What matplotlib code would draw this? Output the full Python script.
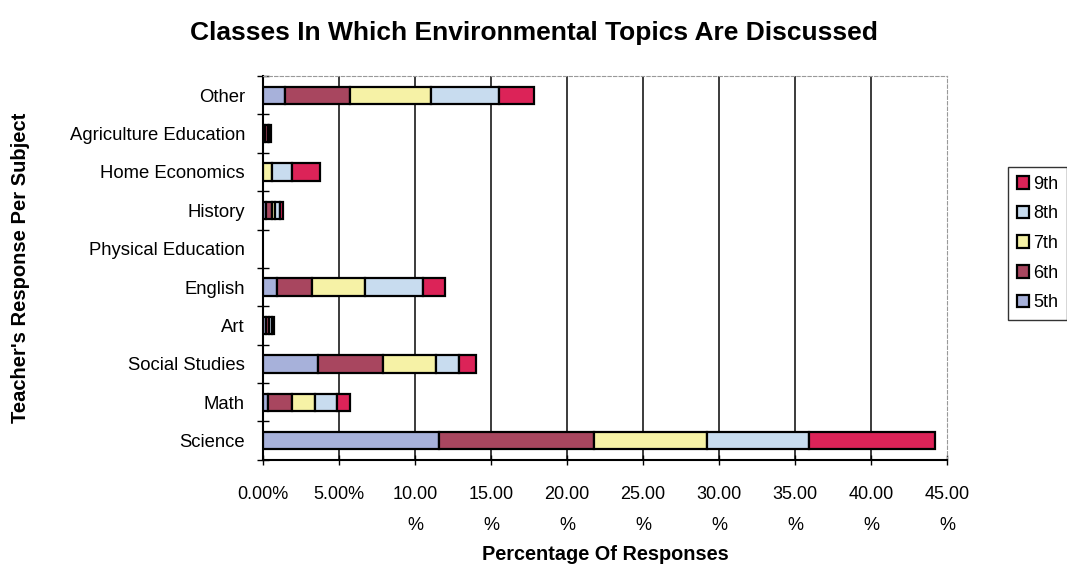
import matplotlib.pyplot as plt
import numpy as np

plt.rcParams['font.family'] = ['Liberation Sans', 'DejaVu Sans']

# subjects, bottom to top
subjects = ['Science', 'Math', 'Social Studies', 'Art', 'English',
            'Physical Education', 'History', 'Home Economics',
            'Agriculture Education', 'Other']

# percentage of responses per grade
grade_5 = [11.6, 0.3, 3.6, 0.2, 0.9, 0.0, 0.2, 0.0, 0.1, 1.45]
grade_6 = [10.2, 1.6, 4.3, 0.2, 2.3, 0.0, 0.4, 0.0, 0.2, 4.3]
grade_7 = [7.4, 1.5, 3.5, 0.0, 3.5, 0.0, 0.2, 0.6, 0.1, 5.3]
grade_8 = [6.7, 1.5, 1.5, 0.2, 3.8, 0.0, 0.3, 1.3, 0.1, 4.5]
grade_9 = [8.3, 0.8, 1.1, 0.1, 1.5, 0.0, 0.2, 1.85, 0.0, 2.3]

grades = ['5th', '6th', '7th', '8th', '9th']
series = [grade_5, grade_6, grade_7, grade_8, grade_9]
colors = ['#a7b1da', '#a8465f', '#f6f2a6', '#c8dcef', '#dc2358']

x_ticks = [0, 5, 10, 15, 20, 25, 30, 35, 40, 45]
x_tick_labels = ['0.00%', '5.00%', '10.00\n%', '15.00\n%', '20.00\n%',
                 '25.00\n%', '30.00\n%', '35.00\n%', '40.00\n%', '45.00\n%']

fig = plt.figure(figsize=(10.67, 5.67), dpi=100)
ax = fig.add_axes([0.2465, 0.189, 0.641, 0.677])

y = np.arange(len(subjects))
left = np.zeros(len(subjects))
bars = []
for name, vals, col in zip(grades, series, colors):
    b = ax.barh(y, vals, left=left, height=0.45, color=col,
                edgecolor='black', linewidth=1.6, label=name, zorder=3)
    # hide empty segments so their outlines don't show
    for patch, v in zip(b.patches, vals):
        if v == 0:
            patch.set_visible(False)
    bars.append(b)
    left += np.array(vals)

ax.set_xlim(0, 45)
ax.set_ylim(-0.5, len(subjects) - 0.5)

# vertical gridlines
for xv in x_ticks[1:-1]:
    ax.axvline(xv, color='#1a1a1a', linewidth=1.2, zorder=1)

ax.set_xticks(x_ticks)
ax.set_xticklabels(x_tick_labels, fontsize=13, linespacing=2.1)
ax.tick_params(axis='x', direction='inout', length=7, width=1, pad=15)

ax.set_yticks(y)
ax.set_yticklabels(subjects, fontsize=13.3)
ax.tick_params(axis='y', which='major', length=0, pad=13)
ax.set_yticks(np.arange(-0.5, len(subjects), 1), minor=True)
ax.tick_params(axis='y', which='minor', direction='inout', length=8, width=1)

for side in ['top', 'right']:
    ax.spines[side].set_color('#999999')
    ax.spines[side].set_linestyle((0, (3, 2)))
    ax.spines[side].set_linewidth(0.8)
ax.spines['left'].set_linewidth(1.5)
ax.spines['bottom'].set_linewidth(1.5)

ax.set_xlabel('Percentage Of Responses', fontsize=14.3, fontweight='bold')
ax.xaxis.set_label_coords(0.5, -0.221)
ax.set_ylabel("Teacher's Response Per Subject", fontsize=14.5, fontweight='bold')
ax.yaxis.set_label_coords(-0.34, 0.5)
fig.suptitle('Classes In Which Environmental Topics Are Discussed',
             fontsize=19, fontweight='bold', x=0.5, y=0.963)

handles = bars[::-1]
labels = grades[::-1]
leg = fig.legend(handles, labels, loc='upper left', bbox_to_anchor=(0.936, 0.722),
                 fontsize=13, frameon=True, fancybox=False, edgecolor='black',
                 handlelength=0.7, handleheight=0.7, handletextpad=0.2,
                 labelspacing=0.7, borderpad=0.5)
leg.get_frame().set_linewidth(1.0)

fig.savefig('out.png', dpi=100)
